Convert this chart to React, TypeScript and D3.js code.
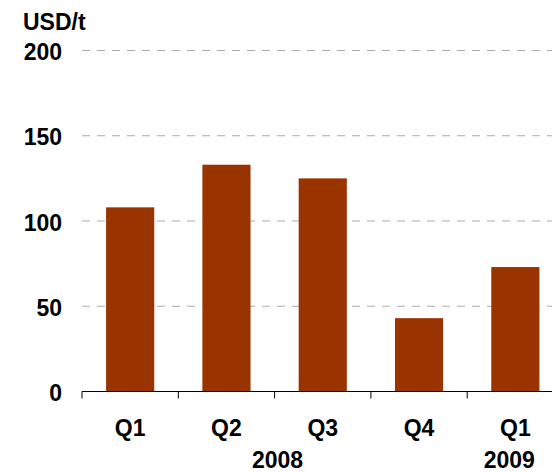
import React from "react";
import * as d3 from "d3";

const categories = ["Q1", "Q2", "Q3", "Q4", "Q1 "];
const values = [108, 133, 125, 43, 73];
const yTicks = [0, 50, 100, 150, 200];
const yearLabels = ["2008", "2009"];
const yearSpans = [
  [1, 2],
  [4, 4],
];

const W = 552;
const H = 472;
const left = 82;
const baseY = 391.5;
const topY = 50.5;
const font = "'Liberation Sans', Arial, sans-serif";
const FS = 23;
const yearNudge = [3, -6];

export default function App() {
  const x = d3
    .scaleBand<string>()
    .domain(categories)
    .range([left, left + 96.3 * 5])
    .paddingInner(0.5)
    .paddingOuter(0.25);
  const y = d3.scaleLinear().domain([0, 200]).range([baseY, topY]);
  const step = x.step();
  const bandStart = (i: number) => left + i * step;
  const center = (i: number) => (x(categories[i]) as number) + x.bandwidth() / 2;

  return (
    <svg
      width={W}
      height={H}
      style={{ position: "absolute", left: 0, top: 0, background: "#fff" }}
      fontFamily={font}
    >
      {yTicks
        .filter((t) => t > 0)
        .map((t) => (
          <line
            key={t}
            x1={left}
            x2={W}
            y1={y(t)}
            y2={y(t)}
            stroke="#ababab"
            strokeWidth={1.2}
            strokeDasharray="8,7"
          />
        ))}
      {categories.map((c, i) => (
        <rect
          key={i}
          x={x(c)}
          y={y(values[i])}
          width={x.bandwidth()}
          height={baseY - y(values[i])}
          fill="#993300"
        />
      ))}
      <line x1={left} x2={W} y1={baseY} y2={baseY} stroke="#000" strokeWidth={1} />
      {categories.map((c, i) => (
        <line
          key={"t" + i}
          x1={bandStart(i)}
          x2={bandStart(i)}
          y1={baseY}
          y2={baseY + 7}
          stroke="#000"
          strokeWidth={1}
        />
      ))}
      {yTicks.map((t) => (
        <text
          key={"l" + t}
          x={62}
          y={y(t) + 9.5}
          textAnchor="end"
          fontSize={FS}
          fontWeight="bold"
          fill="#000"
        >
          {t}
        </text>
      ))}
      <text x={23} y={29.5} fontSize={FS} fontWeight="bold" fill="#000">
        USD/t
      </text>
      {categories.map((c, i) => (
        <text
          key={"c" + i}
          x={center(i)}
          y={436}
          textAnchor="middle"
          fontSize={FS}
          fontWeight="bold"
          fill="#000"
        >
          {c.trim()}
        </text>
      ))}
      {yearLabels.map((lab, k) => {
        const [a, b] = yearSpans[k];
        return (
          <text
            key={lab}
            x={(center(a) + center(b)) / 2 + yearNudge[k]}
            y={468}
            textAnchor="middle"
            fontSize={FS}
            fontWeight="bold"
            fill="#000"
          >
            {lab}
          </text>
        );
      })}
    </svg>
  );
}
